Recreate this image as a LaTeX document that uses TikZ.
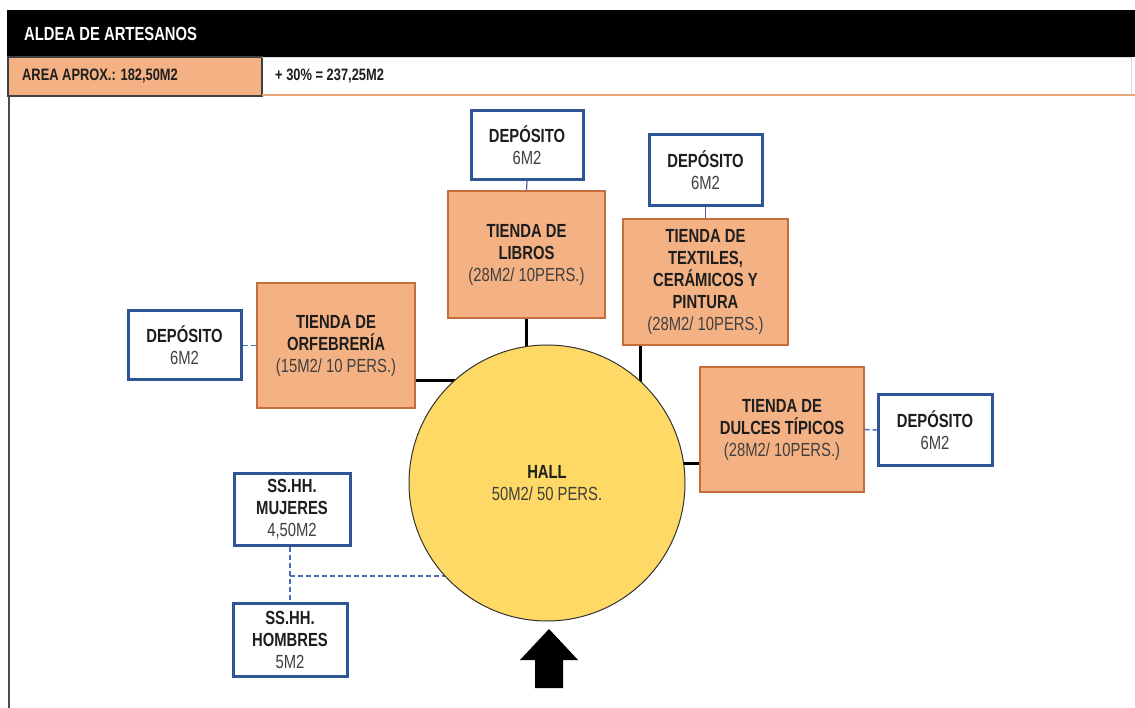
\documentclass[tikz,border=0pt]{standalone}
\usepackage{fontspec}
\setmainfont{Liberation Sans}[FakeStretch=0.78]
\usetikzlibrary{backgrounds}
\definecolor{orfill}{HTML}{F4B183}
\definecolor{ordraw}{RGB}{196,110,62}
\definecolor{bluedraw}{HTML}{2F5597}
\definecolor{hallfill}{HTML}{FFD966}
\definecolor{dashblue}{HTML}{4A6FB5}
\definecolor{txtgray}{HTML}{404040}
\definecolor{txtdark}{HTML}{1E1E1E}
\tikzset{
  every node/.style={font=\fontsize{19}{22}\selectfont, align=center, inner sep=0pt},
  shop/.style={draw=ordraw, line width=1.2pt, fill=orfill, text=txtdark},
  depo/.style={draw=bluedraw, line width=3pt, fill=white, text=txtdark},
  hallc/.style={circle, draw=black!80, line width=1pt, fill=hallfill, minimum size=276pt, text=txtdark},
  link/.style={black, line width=3pt},
  thin link/.style={draw=gray!70!blue, line width=1.2pt},
  dash link/.style={dashblue, line width=1.6pt, dash pattern=on 5pt off 3pt},
}
\newcommand{\rg}[1]{{\color{txtgray}\mdseries #1}}
\begin{document}
\begin{tikzpicture}[x=1pt,y=-1pt]
\useasboundingbox (0,0) rectangle (1135,708);
% header
\fill[black] (7,10) rectangle (1135,57);
\node[anchor=west, text=white, font=\bfseries\fontsize{19}{20}\selectfont] (title) at (24,34) {ALDEA DE ARTESANOS};
\draw[fill=orfill, draw=black!75, line width=1.5pt] (8,57) rectangle (262,96);
\node[anchor=west, font=\bfseries\fontsize{16.5}{18}\selectfont, text=txtdark] (area) at (22,76) {AREA APROX.: 182,50M2};
\draw[gray!30, line width=0.8pt] (262,57) -- (1131,57) -- (1131,95);
\draw[orfill!80!brown, line width=2pt] (262,95) -- (1135,95);
\node[anchor=west, font=\bfseries\fontsize{16.5}{18}\selectfont, text=txtdark] (extra) at (275,76) {+ 30\% = 237,25M2};
\draw[black!70, line width=1.5pt] (9,96) -- (9,708);

% nodes
\node[hallc] (hall) at (547,483) {\textbf{HALL}\\\rg{50M2/ 50 PERS.}};
\node[depo, minimum width=112pt, minimum height=69pt] (dep1) at (527,145) {\textbf{DEPÓSITO}\\\rg{6M2}};
\node[shop, minimum width=157pt, minimum height=127pt] (libros) at (526.5,254.5) {\textbf{TIENDA DE}\\\textbf{LIBROS}\\\rg{(28M2/ 10PERS.)}};
\node[depo, minimum width=113pt, minimum height=71pt] (dep2) at (705.5,170.5) {\textbf{DEPÓSITO}\\\rg{6M2}};
\node[shop, minimum width=165pt, minimum height=126pt] (textiles) at (705.5,282) {\textbf{TIENDA DE}\\\textbf{TEXTILES,}\\\textbf{CERÁMICOS Y}\\\textbf{PINTURA}\\\rg{(28M2/ 10PERS.)}};
\node[depo, minimum width=113pt, minimum height=69pt] (dep3) at (184.5,345.5) {\textbf{DEPÓSITO}\\\rg{6M2}};
\node[shop, minimum width=158pt, minimum height=125pt] (orfe) at (336,345.5) {\textbf{TIENDA DE}\\\textbf{ORFEBRERÍA}\\\rg{(15M2/ 10 PERS.)}};
\node[shop, minimum width=164pt, minimum height=125pt] (dulces) at (782,429.5) {\textbf{TIENDA DE}\\\textbf{DULCES TÍPICOS}\\\rg{(28M2/ 10PERS.)}};
\node[depo, minimum width=114pt, minimum height=70pt] (dep4) at (935,430) {\textbf{DEPÓSITO}\\\rg{6M2}};
\node[depo, minimum width=116pt, minimum height=72pt] (muj) at (292,509) {\textbf{SS.HH.}\\\textbf{MUJERES}\\\rg{4,50M2}};
\node[depo, minimum width=114pt, minimum height=73pt] (hom) at (290,639.5) {\textbf{SS.HH.}\\\textbf{HOMBRES}\\\rg{5M2}};
\coordinate (j) at (290,576);

% entrance arrow
\fill[black] (549,629) -- (578,660) -- (563,660) -- (563,688) -- (535,688) -- (535,660) -- (520,660) -- cycle;

% connectors
\begin{scope}[on background layer]
\draw[link] (libros.south) -- (libros.south |- hall.center);
\draw[link] ([xshift=18pt]textiles.south west) -- ([xshift=18pt]textiles.south west |- hall.center);
\draw[link] ([yshift=-35.5pt]orfe.east) -- ([yshift=-35.5pt]orfe.east -| hall.center);
\draw[link] ([yshift=-33.5pt]dulces.west) -- ([yshift=-33.5pt]dulces.west -| hall.center);
\draw[dash link] (j) -- (j -| hall.center);
\end{scope}
\draw[thin link] (dep1.south) -- (libros.north);
\draw[thin link] (dep2.south) -- (textiles.north);
\draw[dash link] (dep3.east) -- (orfe.west);
\draw[dash link] (dulces.east) -- (dep4.west);
\draw[dash link] (muj.south -| j) -- (hom.north -| j);
\end{tikzpicture}
\end{document}
